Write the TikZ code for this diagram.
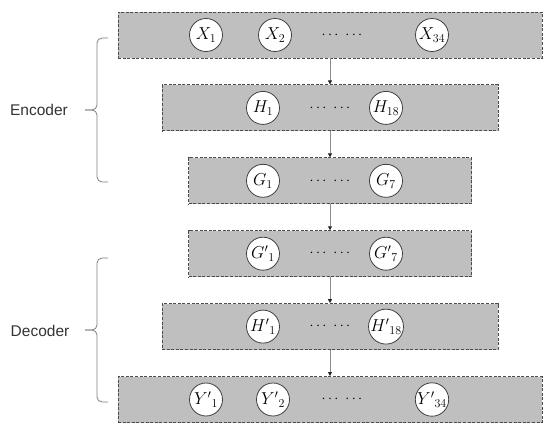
\documentclass[tikz,border=0pt]{standalone}
\usepackage{fontspec}
\newfontfamily\labelfont{Liberation Sans}
\usepackage{tikz}
\usetikzlibrary{arrows.meta, positioning}

\begin{document}
\begin{tikzpicture}[
    x=1pt, y=-1pt,
    node distance=26pt,
    % Layer styles
    layerbox/.style={
      rectangle, draw=black!70, fill=gray!50,
      line width=0.9pt, dash pattern=on 3pt off 1.6pt,
      minimum height=46pt
    },
    unit/.style={
      circle, draw=black!75, fill=white, line width=0.8pt,
      minimum size=33pt, inner sep=0pt,
      font=\fontsize{17}{17}\selectfont
    },
    dots/.style={font=\fontsize{14}{14}\selectfont},
    sidelabel/.style={font=\labelfont\fontsize{15.5}{18}\selectfont, text=black!80},
    % Arrow styles
    arr/.style={-{Triangle[length=4pt, width=4pt, color=black!85]}, draw=black!45, line width=0.8pt},
    bracestyle/.style={draw=black!50, line width=0.8pt, rounded corners=5pt}
  ]
  \useasboundingbox (0,0) rectangle (550,434);

  % ============ Encoder layers ============
  \node[layerbox, minimum width=424pt] (xlayer) at (330,35) {};
  \node[layerbox, minimum width=336pt, below=of xlayer] (hlayer) {};
  \node[layerbox, minimum width=283pt, below=of hlayer] (glayer) {};

  % ============ Decoder layers ============
  \node[layerbox, minimum width=283pt, below=of glayer] (gplayer) {};
  \node[layerbox, minimum width=336pt, below=of gplayer] (hplayer) {};
  \node[layerbox, minimum width=424pt, below=of hplayer] (yplayer) {};

  % ============ Units ============
  \node[unit] (x1) at ([xshift=-124pt]xlayer.center) {$X_1$};
  \node[unit] (x2) at ([xshift=-55pt]xlayer.center) {$X_2$};
  \node[dots] (xdots) at ([xshift=12pt]xlayer.center) {$\cdots\ \cdots$};
  \node[unit] (x34) at ([xshift=102pt]xlayer.center) {$X_{34}$};

  \node[unit] (h1) at ([xshift=-67pt]hlayer.center) {$H_1$};
  \node[dots] (hdots) at (hlayer.center) {$\cdots\ \cdots$};
  \node[unit] (h18) at ([xshift=56pt]hlayer.center) {$H_{18}$};

  \node[unit] (g1) at ([xshift=-67pt]glayer.center) {$G_1$};
  \node[dots] (gdots) at (glayer.center) {$\cdots\ \cdots$};
  \node[unit] (g7) at ([xshift=56pt]glayer.center) {$G_7$};

  \node[unit] (gp1) at ([xshift=-67pt]gplayer.center) {${G'}_1$};
  \node[dots] (gpdots) at (gplayer.center) {$\cdots\ \cdots$};
  \node[unit] (gp7) at ([xshift=56pt]gplayer.center) {${G'}_7$};

  \node[unit] (hp1) at ([xshift=-67pt]hplayer.center) {${H'}_1$};
  \node[dots] (hpdots) at (hplayer.center) {$\cdots\ \cdots$};
  \node[unit] (hp18) at ([xshift=56pt]hplayer.center) {${H'}_{18}$};

  \node[unit] (yp1) at ([xshift=-124pt]yplayer.center) {${Y'}_1$};
  \node[unit] (yp2) at ([xshift=-57pt]yplayer.center) {${Y'}_2$};
  \node[dots] (ypdots) at ([xshift=12pt]yplayer.center) {$\cdots\ \cdots$};
  \node[unit] (yp34) at ([xshift=102pt]yplayer.center) {${Y'}_{34}$};

  % ============ Arrows ============
  \draw[arr] (xlayer) -- (hlayer);
  \draw[arr] (hlayer) -- (glayer);
  \draw[arr] (glayer) -- (gplayer);
  \draw[arr] (gplayer) -- (hplayer);
  \draw[arr] (hplayer) -- (yplayer);

  % ============ Braces ============
  \coordinate (enctop) at (108,38);
  \coordinate (encbot) at (108,182);
  \coordinate (enctip) at (85,110);
  \coordinate (dectop) at (108,258);
  \coordinate (decbot) at (108,402);
  \coordinate (dectip) at (85,330);
  \draw[bracestyle] (enctop) -- ++(-11,0) |- (enctip);
  \draw[bracestyle] (encbot) -- ++(-11,0) |- (enctip);
  \draw[bracestyle] (dectop) -- ++(-11,0) |- (dectip);
  \draw[bracestyle] (decbot) -- ++(-11,0) |- (dectip);
  \node[sidelabel] (enc) at (39,110) {Encoder};
  \node[sidelabel] (dec) at (40,331) {Decoder};
\end{tikzpicture}
\end{document}
